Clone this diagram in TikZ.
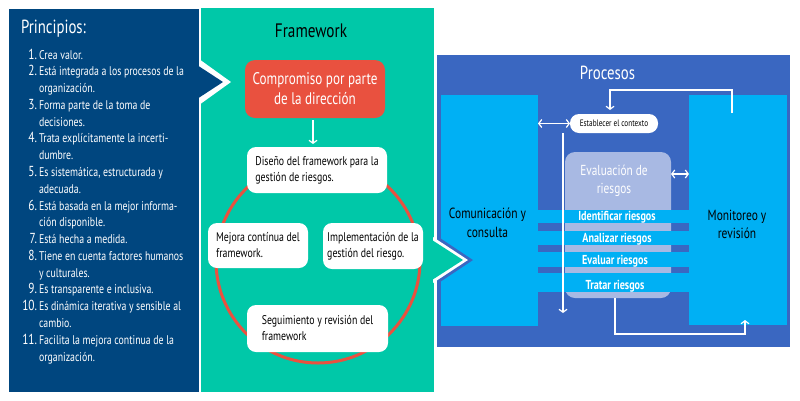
\documentclass[tikz,border=0pt]{standalone}
\usepackage{fontspec}
\setmainfont{PT Sans}[FakeStretch=0.78]
\usetikzlibrary{arrows.meta}
\definecolor{dkblue}{HTML}{00467F}
\definecolor{tealp}{HTML}{00C8A8}
\definecolor{redb}{HTML}{E9513F}
\definecolor{procb}{HTML}{3A67C1}
\definecolor{ltb}{HTML}{00B0F4}
\definecolor{lav}{HTML}{A8B9E3}
\begin{document}
\begin{tikzpicture}[x=1pt,y=-1pt,
  every node/.style={inner sep=0pt, outer sep=0pt},
  litem/.style={anchor=base west, text=white, font=\fontsize{12.6}{14}\selectfont},
  lnum/.style={anchor=base east, text=white, font=\fontsize{14.5}{14}\selectfont},
  wbox/.style={fill=white, rounded corners=9pt, align=left, font=\fontsize{12.6}{16}\selectfont},
  band/.style={fill=ltb},
  bandtxt/.style={anchor=base, text=white, font=\bfseries\fontsize{13}{14}\selectfont},
  blocktxt/.style={anchor=base, font=\fontsize{14.7}{16}\selectfont},
  tip/.style={draw=white, line width=1.2pt, -{Straight Barb[length=3pt,width=8pt,line width=1.2pt]}},
  dbl/.style={draw=white, line width=1.2pt, {Straight Barb[length=3pt,width=8pt,line width=1.2pt]}-{Straight Barb[length=3pt,width=8pt,line width=1.2pt]}}
]
\useasboundingbox (0,0) rectangle (800,400);
\fill[white] (0,0) rectangle (800,400);
% ---------------- left panel
\fill[dkblue] (9,9) rectangle (199,392);
\fill[tealp] (201,8) rectangle (434,392);
\fill[white] (199,59) -- (231,82) -- (199,105) -- cycle;
\fill[dkblue] (197,65) -- (223,82) -- (197,99) -- cycle;
\node[anchor=base west, text=white, font=\fontsize{19}{20}\selectfont] (ptitle) at (21,33) {Principios:};
\foreach \k/\t in {0/{Crea valor.},1/{Está integrada a los procesos de la},2/{organización.},
  3/{Forma parte de la toma de},4/{decisiones.},5/{Trata explícitamente la incerti-},6/{dumbre.},
  7/{Es sistemática, estructurada y},8/{adecuada.},9/{Está basada en la mejor informa-},
  10/{ción disponible.},11/{Está hecha a medida.},12/{Tiene en cuenta factores humanos},
  13/{y culturales.},14/{Es transparente e inclusiva.},15/{Es dinámica iterativa y sensible al},
  16/{cambio.},17/{Facilita la mejora continua de la},18/{organización.}}
  \node[litem] (line\k) at (39,{59+16.78*\k}) {\t};
\foreach \k/\n in {0/1,1/2,3/3,5/4,7/5,9/6,11/7,12/8,14/9,15/10,17/11}
  \node[lnum] (num\n) at (37,{59+16.78*\k}) {\n.};
% ---------------- framework panel
\node[anchor=base, font=\fontsize{19.5}{20}\selectfont] (ftitle) at (311,37) {Framework};
\draw[redb, line width=3pt] (318,261) circle[radius=102];
\node[fill=redb, rounded corners=10pt, minimum width=140pt, minimum height=58pt, text=white, align=center,
  font=\fontsize{16.8}{20}\selectfont] (comp) at (315,89) {Compromiso por parte\\de la dirección};
\node[wbox, minimum width=140pt, minimum height=46pt] (dis) at (317,170) {Diseño del framework para la\\gestión de riesgos.};
\node[wbox, minimum width=100pt, minimum height=45pt] (mej) at (258,245.5) {Mejora contínua del\\framework.};
\node[wbox, minimum width=100pt, minimum height=46pt] (imp) at (373,246) {Implementación de la\\gestión del riesgo.};
\node[wbox, minimum width=141pt, minimum height=47pt] (seg) at (317.5,328.5) {Seguimiento y revisión del\\framework};
\draw[tip, shorten <=2pt, shorten >=3pt] (comp.south -| 313,0) -- (dis.north -| 313,0);
% ---------------- procesos panel
\fill[procb] (437,55) rectangle (790,347);
\node[fill=ltb, minimum width=97pt, minimum height=231pt] (com) at (489.5,210.5) {};
\node[fill=ltb, minimum width=98pt, minimum height=230pt] (mon) at (738,210) {};
\fill[procb] (437,236) -- (473,260) -- (437,284) -- cycle;
\fill[white] (433,237) -- (468,260) -- (433,283) -- cycle;
\fill[tealp] (432,240) -- (463,260) -- (432,280) -- cycle;
\node[anchor=base, text=white, font=\fontsize{19}{20}\selectfont] (ptit) at (607.5,79) {Procesos};
\node[fill=lav, rounded corners=10pt, minimum width=106pt, minimum height=146pt] (eva) at (618,225) {};
\fill[band] (538,210) rectangle (689,223);
\fill[band] (538,231) rectangle (689,245);
\fill[band] (538,252) rectangle (689,267);
\fill[band] (538,273) rectangle (689,292);
\node[anchor=base, text=white, font=\fontsize{14.5}{18}\selectfont] (evt1) at (614,175) {Evaluación de};
\node[anchor=base, text=white, font=\fontsize{14.5}{18}\selectfont] (evt2) at (614,193) {riesgos};
\node[bandtxt] (b1) at (617,220.5) {Identificar riesgos};
\node[bandtxt] (b2) at (617,242.5) {Analizar riesgos};
\node[bandtxt] (b3) at (615,264.5) {Evaluar riesgos};
\node[bandtxt] (b4) at (615,289) {Tratar riesgos};
\node[blocktxt] (ct1) at (487.5,218) {Comunicación y};
\node[blocktxt] (ct2) at (487.5,237) {consulta};
\node[blocktxt] (mt1) at (737,220) {Monitoreo y};
\node[blocktxt] (mt2) at (737,238) {revisión};
\node[fill=white, rounded corners=9pt, minimum width=88pt, minimum height=19pt,
  font=\fontsize{9.3}{10}\selectfont] (ctx) at (614,123.5) {Establecer el contexto};
\draw[dbl] (com.east |- ctx.west) -- (ctx.west);
\draw[dbl] (eva.east |- 0,174) -- (mon.west |- 0,174);
\coordinate (vtop) at (563,133);
\coordinate (vbot) at (563,313);
\draw[tip] (vtop) -- (vbot);
\coordinate (mstart) at (732,113);
\draw[tip, shorten >=4pt] (mstart) -- (732,90) -| ([xshift=-4pt]ctx.north);
\coordinate (mend) at (745,320);
\draw[tip] ([xshift=-3pt]eva.south) -- ++(0,36) -| (mend);
\end{tikzpicture}
\end{document}
